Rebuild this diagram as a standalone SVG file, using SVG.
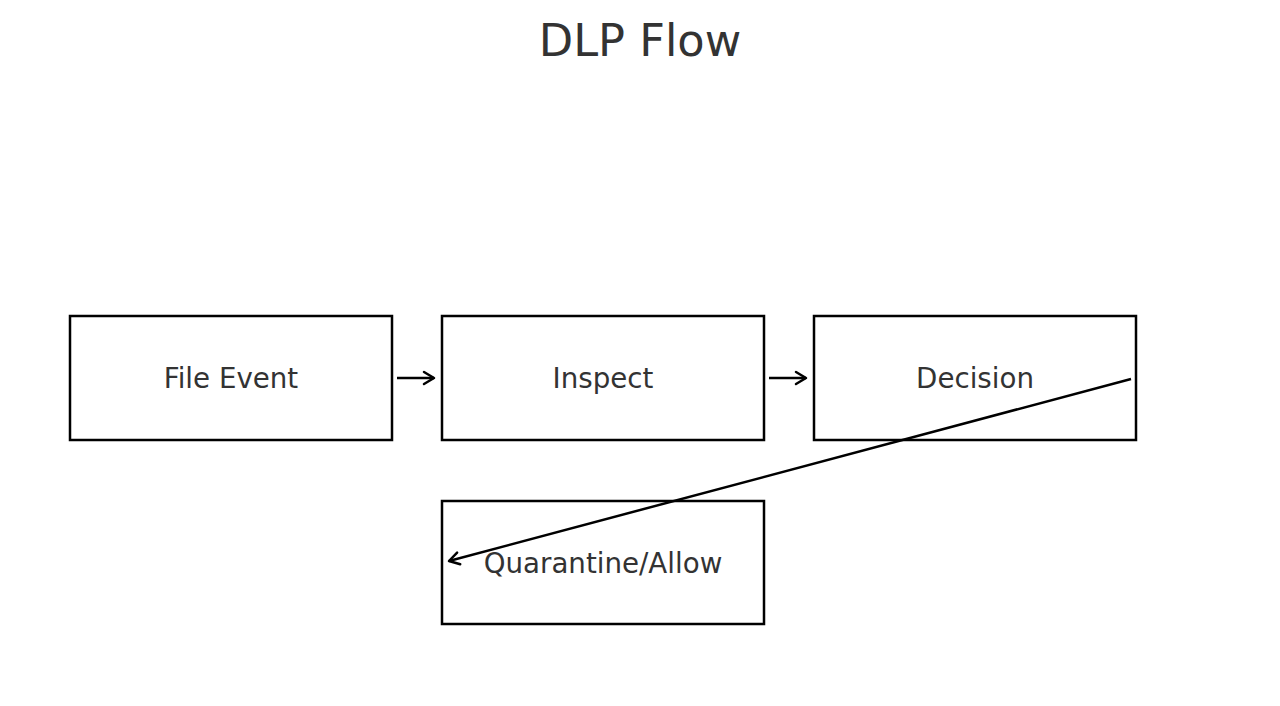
<svg xmlns="http://www.w3.org/2000/svg" width="1280" height="706" viewBox="0 0 1280 706">
<defs>
<marker id="arr" markerWidth="16" markerHeight="16" refX="13" refY="8" orient="auto" markerUnits="userSpaceOnUse">
<path d="M3,2 L13,8 L3,14" fill="none" stroke="#000" stroke-width="2.5" stroke-linecap="round" stroke-linejoin="round"/>
</marker>
<style>
.box{fill:#fff;stroke:#000;stroke-width:2.5}
.lbl{font-family:"DejaVu Sans",sans-serif;font-size:27.7px;fill:#333;text-anchor:middle;dominant-baseline:central}
.edge{stroke:#000;stroke-width:2.5;fill:none;marker-end:url(#arr)}
</style>
</defs>
<rect width="1280" height="706" fill="#fff"/>
<text x="640" y="41" font-family="'DejaVu Sans',sans-serif" font-size="44.7" fill="#333" text-anchor="middle" dominant-baseline="central">DLP Flow</text>
<g id="file-event"><rect class="box" x="70" y="316" width="322" height="124"/><text class="lbl" x="231" y="378">File Event</text></g>
<g id="inspect"><rect class="box" x="442" y="316" width="322" height="124"/><text class="lbl" x="603" y="378">Inspect</text></g>
<g id="decision"><rect class="box" x="814" y="316" width="322" height="124"/><text class="lbl" x="975" y="378">Decision</text></g>
<g id="quarantine"><rect class="box" x="442" y="501" width="322" height="123"/><text class="lbl" x="603" y="563">Quarantine/Allow</text></g>
<g id="connectors">
<line class="edge" x1="397" y1="378" x2="434" y2="378"/>
<line class="edge" x1="769" y1="378" x2="806" y2="378"/>
<line class="edge" x1="1131" y1="379" x2="449" y2="561"/>
</g>
</svg>
